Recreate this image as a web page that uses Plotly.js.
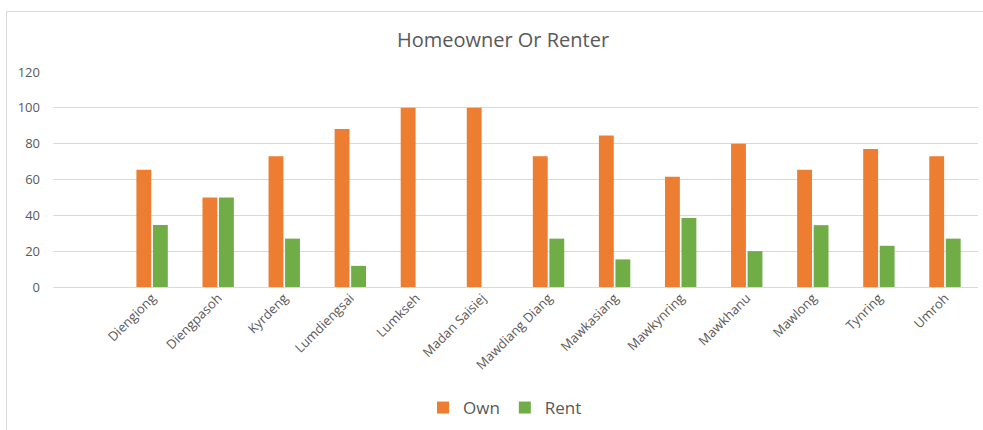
<!DOCTYPE html>
<html>
<head>
<meta charset="utf-8">
<script src="https://cdn.plot.ly/plotly-3.0.1.min.js"></script>
<style>
  html, body { margin: 0; padding: 0; background: #fff; }
  #wrap { position: relative; width: 983px; height: 430px; overflow: hidden; }
  #chart { width: 983px; height: 430px; }
  #frame { position: absolute; left: 6px; top: 11px; width: 1200px; height: 600px;
           border-top: 1px solid #d9d9d9; border-left: 1px solid #d9d9d9; pointer-events: none; }
</style>
</head>
<body>
<div id="wrap">
  <div id="chart"></div>
  <div id="frame"></div>
</div>
<script>
const categories = ["Diengiong", "Diengpasoh", "Kyrdeng", "Lumdiengsai", "Lumkseh", "Madan Saisiej",
  "Mawdiang Diang", "Mawkasiang", "Mawkynring", "Mawkhanu", "Mawlong", "Tynring", "Umroh"];
const ownValues  = [65.4, 50, 73, 88.2, 100, 100, 73, 84.6, 61.5, 80, 65.5, 77, 73];
const rentValues = [34.6, 50, 27, 11.8, 0, 0, 27, 15.4, 38.5, 20, 34.5, 23, 27];
const yTicks = [0, 20, 40, 60, 80, 100, 120];

const fontFam = '"Open Sans", "Noto Sans", sans-serif';
const grey = '#595959';

const traces = [
  { type: 'bar', name: 'Own', x: categories, y: ownValues,
    marker: { color: '#ED7D31', line: { width: 0 } } },
  { type: 'bar', name: 'Rent', x: categories, y: rentValues,
    marker: { color: '#70AD47', line: { width: 0 } } }
];

const layout = {
  width: 983, height: 430,
  margin: { l: 53, r: 5, t: 72, b: 143 },
  paper_bgcolor: 'rgba(0,0,0,0)', plot_bgcolor: 'rgba(0,0,0,0)',
  font: { family: fontFam, color: grey, size: 12 },
  title: { text: 'Homeowner Or Renter', font: { family: fontFam, size: 20, color: grey },
           x: 503 / 983, xanchor: 'center', xref: 'container',
           y: 1 - 40 / 430, yanchor: 'middle', yref: 'container' },
  barmode: 'group', bargap: 0.5, bargroupgap: 0.1,
  xaxis: { type: 'category', range: [-1.5, 12.5], tickangle: -45, showgrid: false,
           showline: false, zeroline: false, ticks: '', tickfont: { size: 13, color: grey },
           fixedrange: true },
  yaxis: { range: [0, 120], tickvals: yTicks, showgrid: true, gridcolor: '#d9d9d9', gridwidth: 1,
           zeroline: true, zerolinecolor: '#d9d9d9', zerolinewidth: 1, showline: false, ticks: '',
           ticklabelstandoff: 12, tickfont: { size: 13, color: grey }, fixedrange: true },
  showlegend: true,
  legend: { orientation: 'h', xref: 'container', yref: 'container', x: 505 / 983, xanchor: 'center',
            y: 1 - 408 / 430, yanchor: 'middle', font: { size: 17, color: grey },
            itemwidth: 30, traceorder: 'normal' }
};

Plotly.newPlot('chart', traces, layout, { displayModeBar: false, staticPlot: true });
</script>
</body>
</html>
